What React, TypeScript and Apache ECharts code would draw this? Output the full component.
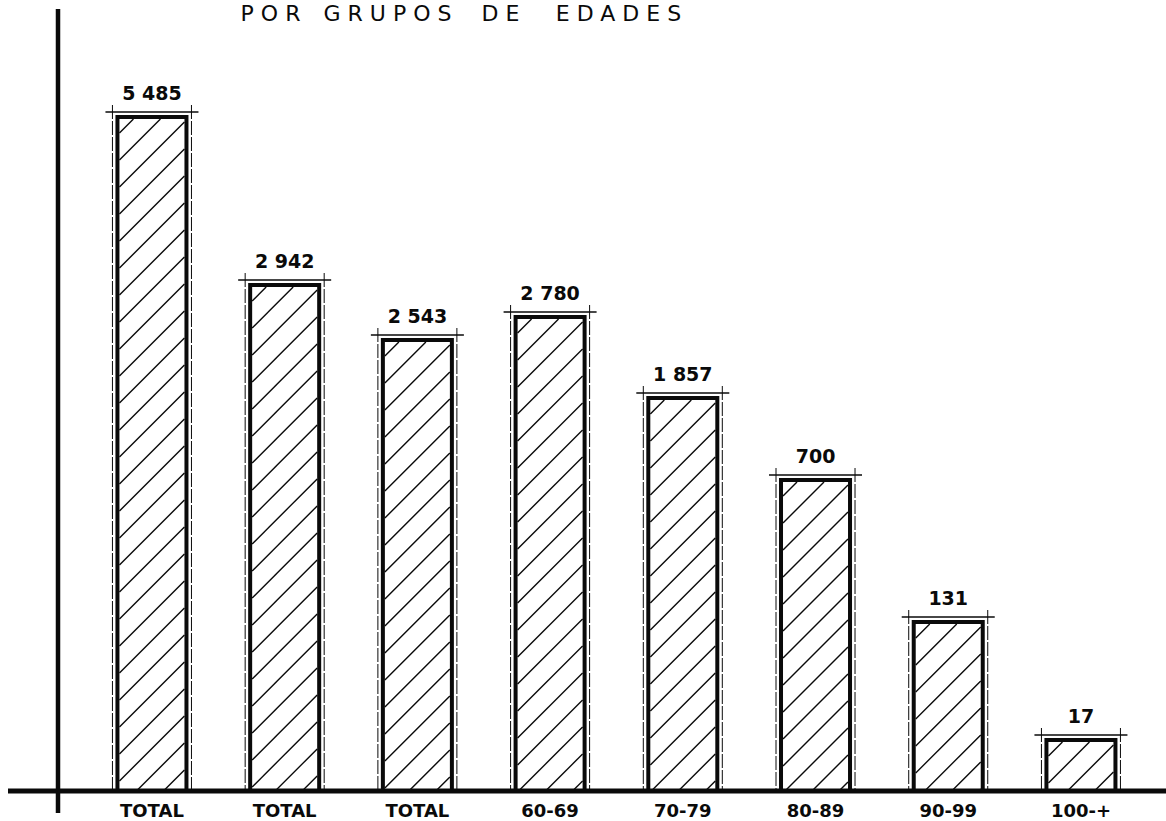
import React, { useEffect, useRef } from "react";
import * as echarts from "echarts";

// Category labels along the base line
const categories = ["TOTAL", "TOTAL", "TOTAL", "60-69", "70-79", "80-89", "90-99", "100-+"];
// Printed values written above each bar
const valueLabels = ["5 485", "2 942", "2 543", "2 780", "1 857", "700", "131", "17"];
// Drawn bar heights (the original is not drawn to a linear scale)
const barHeights = [674, 506, 451, 474, 393, 311, 169, 51];
// Title words
const titleWords = ["POR", "GRUPOS", "DE", "EDADES"];

const INK = "#0a0a0a";

export default function App() {
  const ref = useRef<HTMLDivElement>(null);

  useEffect(() => {
    if (!ref.current) return;
    const chart = echarts.init(ref.current, null, { renderer: "svg" });

    const titleCenters = [274, 391, 504, 622];
    const titleGraphics = titleWords.map((w, i) => ({
      type: "text",
      x: titleCenters[i],
      y: 13,
      silent: true,
      style: {
        text: w,
        fontFamily: "DejaVu Sans",
        fontSize: 22,
        fill: INK,
        align: "center",
        verticalAlign: "middle",
      },
    }));

    const option: any = {
      animation: false,
      backgroundColor: "#ffffff",
      grid: { left: 85.6, right: 18.7, top: 91, bottom: 30 },
      xAxis: {
        type: "category",
        data: categories,
        axisLine: { show: false },
        axisTick: { show: false },
        axisLabel: {
          color: INK,
          fontFamily: "DejaVu Sans",
          fontWeight: "bold",
          fontSize: 18,
          margin: 10,
        },
        splitLine: { show: false },
      },
      yAxis: {
        type: "value",
        min: 0,
        max: 700,
        show: false,
      },
      graphic: [
        // vertical axis
        { type: "line", shape: { x1: 58, y1: 9, x2: 58, y2: 813 }, style: { stroke: INK, lineWidth: 4.5 }, z: 10 },
        // base line
        { type: "line", shape: { x1: 8, y1: 791, x2: 1166, y2: 791 }, style: { stroke: INK, lineWidth: 5 }, z: 10 },
        ...titleGraphics,
      ],
      series: [
        {
          type: "custom",
          silent: true,
          data: barHeights.map((h, i) => [i, h]),
          encode: { x: 0, y: 1 },
          renderItem: (params: any, api: any) => {
            const idx = api.value(0);
            const h = api.value(1);
            const top = api.coord([idx, h]);
            const base = api.coord([idx, 0]);
            const cx = top[0];
            const yTop = top[1];
            const yBase = base[1];
            const band = api.size([1, 0])[0];
            const w = band * 0.52;
            const x0 = cx - w / 2;
            const x1 = cx + w / 2;
            const children: any[] = [];

            // white fill + thick border
            children.push({
              type: "rect",
              shape: { x: x0, y: yTop, width: w, height: yBase - yTop },
              style: { fill: "#fff", stroke: INK, lineWidth: 4 },
              z2: 1,
            });

            // hatch lines (x + y = c) clipped to the inner rectangle
            const ix0 = x0 + 2, ix1 = x1 - 2, iy0 = yTop + 2, iy1 = yBase;
            const step = 27;
            for (let c = ix0 + iy0 + 14; c < ix1 + iy1; c += step) {
              const lo = Math.max(ix0, c - iy1);
              const hi = Math.min(ix1, c - iy0);
              if (hi - lo > 1) {
                children.push({
                  type: "line",
                  shape: { x1: lo, y1: c - lo, x2: hi, y2: c - hi },
                  style: { stroke: INK, lineWidth: 1.4 },
                  z2: 2,
                });
              }
            }

            // thin outer guide lines
            const gx0 = x0 - 5, gx1 = x1 + 5;
            children.push({
              type: "line",
              shape: { x1: gx0, y1: yTop - 12, x2: gx0, y2: yBase },
              style: { stroke: INK, lineWidth: 1, lineDash: [14, 2] },
              z2: 1,
            });
            children.push({
              type: "line",
              shape: { x1: gx1, y1: yTop - 12, x2: gx1, y2: yBase },
              style: { stroke: INK, lineWidth: 1, lineDash: [14, 2] },
              z2: 1,
            });
            // dimension line above bar
            children.push({
              type: "line",
              shape: { x1: x0 - 12, y1: yTop - 5, x2: x1 + 12, y2: yTop - 5 },
              style: { stroke: INK, lineWidth: 1.3 },
              z2: 1,
            });
            // value text
            children.push({
              type: "text",
              x: cx,
              y: yTop - 24,
              style: {
                text: valueLabels[idx],
                fontFamily: "DejaVu Sans",
                fontWeight: "bold",
                fontSize: 19,
                fill: INK,
                align: "center",
                verticalAlign: "middle",
              },
              z2: 3,
            });

            return { type: "group", children };
          },
        },
      ],
    };

    chart.setOption(option);

    // widen the letter spacing of the title lettering, as in the drawing
    const applySpacing = () => {
      const texts = ref.current ? ref.current.querySelectorAll("text") : [];
      texts.forEach((t: any) => {
        if (titleWords.includes((t.textContent || "").trim())) {
          t.setAttribute("letter-spacing", "7");
          t.style.letterSpacing = "7px";
        }
      });
    };
    applySpacing();
    chart.on("finished", applySpacing);

    return () => chart.dispose();
  }, []);

  return (
    <div
      ref={ref}
      style={{ position: "absolute", left: 0, top: 0, width: 1166, height: 821, background: "#fff" }}
    />
  );
}
